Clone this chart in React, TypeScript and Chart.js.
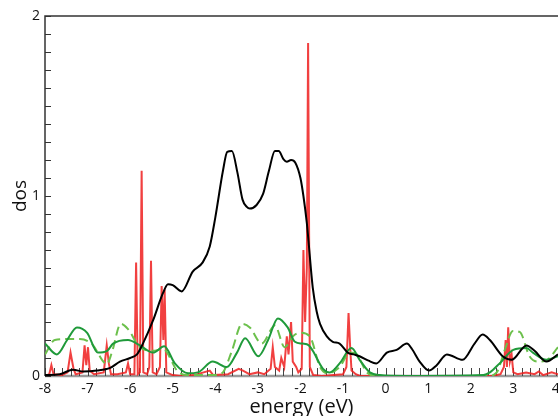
import React, { useEffect, useRef } from "react";
import { Chart, registerables } from "chart.js";

Chart.register(...registerables);

// ---- data ----
const xTickValues = [-8, -7, -6, -5, -4, -3, -2, -1, 0, 1, 2, 3, 4];
const yTickValues = [0, 1, 2];

const totalE = [-8.0, -7.65, -7.34, -7.1, -6.78, -6.47, -6.24, -6.0, -5.84, -5.7, -5.46, -5.23, -5.11, -5.0, -4.79, -4.53, -4.3, -4.13, -4.0, -3.82, -3.72, -3.61, -3.48, -3.36, -3.26, -3.19, -3.03, -2.88, -2.74, -2.6, -2.51, -2.4, -2.32, -2.22, -2.12, -2.0, -1.93, -1.85, -1.71, -1.62, -1.54, -1.38, -1.24, -1.08, -0.89, -0.75, -0.61, -0.4, -0.22, 0.03, 0.26, 0.5, 0.62, 0.8, 1.02, 1.2, 1.44, 1.81, 2.09, 2.28, 2.45, 2.75, 2.96, 3.31, 3.5, 3.78, 4.05];
const totalDos = [0.005, 0.01, 0.035, 0.025, 0.03, 0.045, 0.08, 0.1, 0.12, 0.18, 0.31, 0.46, 0.51, 0.505, 0.47, 0.58, 0.63, 0.72, 0.88, 1.14, 1.245, 1.25, 1.13, 0.98, 0.94, 0.93, 0.95, 1.01, 1.14, 1.25, 1.25, 1.205, 1.19, 1.2, 1.185, 1.1, 1.0, 0.85, 0.49, 0.36, 0.29, 0.22, 0.19, 0.18, 0.13, 0.12, 0.11, 0.085, 0.07, 0.13, 0.145, 0.18, 0.15, 0.08, 0.03, 0.06, 0.12, 0.09, 0.18, 0.23, 0.2, 0.11, 0.09, 0.17, 0.14, 0.08, 0.12];

const sE = [-8.0, -7.9, -7.85, -7.8, -7.6, -7.47, -7.4, -7.33, -7.28, -7.12, -7.07, -7.03, -6.99, -6.95, -6.85, -6.62, -6.55, -6.5, -6.45, -6.3, -6.1, -6.05, -6.0, -5.9, -5.86, -5.82, -5.77, -5.73, -5.69, -5.6, -5.55, -5.51, -5.47, -5.38, -5.3, -5.26, -5.22, -5.19, -5.15, -5.0, -4.8, -4.5, -4.13, -4.05, -3.7, -3.45, -3.35, -3.2, -3.0, -2.85, -2.7, -2.65, -2.6, -2.5, -2.45, -2.38, -2.32, -2.28, -2.22, -2.18, -2.1, -2.05, -1.97, -1.93, -1.89, -1.85, -1.82, -1.78, -1.7, -1.5, -1.0, -0.92, -0.87, -0.83, -0.8, -0.7, -0.6, 2.5, 2.7, 2.78, 2.82, 2.85, 2.88, 2.92, 2.96, 3.0, 3.1, 3.3, 3.5, 3.6, 3.7, 3.9, 4.05];
const sDos = [0.0, 0.01, 0.06, 0.01, 0.005, 0.02, 0.13, 0.04, 0.01, 0.02, 0.17, 0.06, 0.16, 0.03, 0.01, 0.02, 0.17, 0.07, 0.01, 0.01, 0.02, 0.07, 0.01, 0.01, 0.63, 0.01, 0.02, 1.14, 0.02, 0.01, 0.05, 0.64, 0.02, 0.01, 0.05, 0.5, 0.2, 0.48, 0.02, 0.005, 0.0, 0.005, 0.03, 0.005, 0.01, 0.04, 0.03, 0.01, 0.02, 0.01, 0.04, 0.16, 0.05, 0.03, 0.1, 0.05, 0.22, 0.12, 0.3, 0.08, 0.05, 0.02, 0.04, 0.7, 0.3, 0.6, 1.85, 0.05, 0.005, 0.0, 0.01, 0.05, 0.35, 0.15, 0.03, 0.01, 0.0, 0.0, 0.01, 0.05, 0.2, 0.05, 0.27, 0.08, 0.12, 0.02, 0.01, 0.02, 0.01, 0.025, 0.005, 0.02, 0.01];

const pE = [-8.0, -7.72, -7.48, -7.25, -7.01, -6.76, -6.54, -6.4, -6.05, -5.77, -5.46, -5.2, -4.95, -4.64, -4.41, -4.06, -3.73, -3.49, -3.3, -2.99, -2.76, -2.53, -2.3, -2.13, -1.95, -1.8, -1.71, -1.47, -1.31, -1.08, -0.8, -0.61, -0.37, -0.14, 0.5, 2.3, 2.45, 2.68, 3.0, 3.31, 3.46, 3.78, 4.05];
const pDos = [0.18, 0.12, 0.2, 0.27, 0.24, 0.13, 0.14, 0.18, 0.2, 0.17, 0.13, 0.165, 0.07, 0.015, 0.02, 0.08, 0.05, 0.13, 0.21, 0.11, 0.2, 0.32, 0.27, 0.19, 0.18, 0.17, 0.14, 0.04, 0.02, 0.07, 0.155, 0.09, 0.02, 0.005, 0.0, 0.005, 0.02, 0.07, 0.145, 0.155, 0.13, 0.09, 0.11];

const dE = [-8.0, -7.77, -7.48, -7.18, -6.87, -6.66, -6.55, -6.43, -6.22, -6.05, -5.77, -5.46, -5.23, -4.88, -4.64, -4.0, -3.82, -3.61, -3.37, -3.19, -2.91, -2.6, -2.37, -2.18, -2.01, -1.78, -1.54, -1.36, -1.08, -0.84, -0.68, -0.44, -0.2, 2.4, 2.61, 2.8, 2.99, 3.15, 3.38, 3.57, 3.8, 4.05];
const dDos = [0.12, 0.2, 0.205, 0.205, 0.17, 0.09, 0.065, 0.13, 0.29, 0.26, 0.16, 0.14, 0.15, 0.025, 0.005, 0.005, 0.02, 0.14, 0.29, 0.27, 0.18, 0.28, 0.16, 0.22, 0.24, 0.22, 0.05, 0.015, 0.05, 0.13, 0.12, 0.02, 0.0, 0.0, 0.02, 0.145, 0.25, 0.245, 0.11, 0.08, 0.09, 0.16];

const xTitle = "energy (eV)";
const yTitle = "dos";

const pts = (xs: number[], ys: number[]) => xs.map((x, i) => ({ x, y: ys[i] }));

const axesPlugin = {
  id: "customAxes",
  beforeDatasetsDraw(chart: any) {
    const { ctx, chartArea, scales } = chart;
    const xs = scales.x;
    const ys = scales.y;
    ctx.save();
    // bottom axis (grey)
    ctx.strokeStyle = "#9a9a9a";
    ctx.lineWidth = 2.5;
    ctx.beginPath();
    ctx.moveTo(chartArea.left, chartArea.bottom);
    ctx.lineTo(chartArea.right, chartArea.bottom);
    ctx.stroke();
    // x minor ticks every 0.2
    ctx.strokeStyle = "#444";
    ctx.lineWidth = 1;
    for (let i = 0; i <= 60; i++) {
      const v = -8 + i * 0.2;
      const px = Math.round(xs.getPixelForValue(v)) + 0.5;
      ctx.beginPath();
      ctx.moveTo(px, chartArea.bottom);
      ctx.lineTo(px, chartArea.bottom - 8);
      ctx.stroke();
    }
    // left + top axis
    ctx.strokeStyle = "#333";
    ctx.lineWidth = 1.5;
    ctx.beginPath();
    ctx.moveTo(chartArea.left, chartArea.bottom);
    ctx.lineTo(chartArea.left, chartArea.top);
    ctx.lineTo(chartArea.right, chartArea.top);
    ctx.stroke();
    ctx.lineWidth = 1;
    for (let i = 0; i <= 20; i++) {
      const v = i * 0.1;
      const py = Math.round(ys.getPixelForValue(v)) + 0.5;
      ctx.beginPath();
      ctx.moveTo(chartArea.left, py);
      ctx.lineTo(chartArea.left + 6, py);
      ctx.stroke();
    }
    // titles
    ctx.fillStyle = "#111";
    ctx.font = '20px "Open Sans", sans-serif';
    ctx.textAlign = "center";
    ctx.textBaseline = "alphabetic";
    ctx.fillText(xTitle, (chartArea.left + chartArea.right) / 2, 413);
    ctx.save();
    ctx.translate(26, (chartArea.top + chartArea.bottom) / 2);
    ctx.rotate(-Math.PI / 2);
    ctx.font = '19px "Open Sans", sans-serif';
    ctx.fillText(yTitle, 0, 0);
    ctx.restore();
    ctx.restore();
  },
};

export default function App() {
  const ref = useRef<HTMLCanvasElement | null>(null);
  useEffect(() => {
    document.body.style.margin = "0";
    const canvas = ref.current;
    if (!canvas) return;
    const chart = new Chart(canvas, {
      type: "line",
      data: {
        datasets: [
          {
            label: "s",
            data: pts(sE, sDos),
            borderColor: "rgba(238,30,30,0.85)",
            borderWidth: 2,
            pointRadius: 0,
            tension: 0,
            order: 4,
          },
          {
            label: "p dashed",
            data: pts(dE, dDos),
            borderColor: "#6cc04c",
            borderWidth: 2,
            borderDash: [9, 5],
            pointRadius: 0,
            cubicInterpolationMode: "monotone",
            order: 3,
          },
          {
            label: "p",
            data: pts(pE, pDos),
            borderColor: "#1f9a3a",
            borderWidth: 2,
            pointRadius: 0,
            cubicInterpolationMode: "monotone",
            order: 2,
          },
          {
            label: "total",
            data: pts(totalE, totalDos),
            borderColor: "#000",
            borderWidth: 2,
            pointRadius: 0,
            cubicInterpolationMode: "monotone",
            order: 1,
          },
        ],
      },
      options: {
        responsive: false,
        animation: false,
        devicePixelRatio: 1,
        layout: { padding: { top: 16, left: 0, right: 0, bottom: 0 } },
        plugins: { legend: { display: false }, tooltip: { enabled: false } },
        scales: {
          x: {
            type: "linear",
            min: -8,
            max: 4.05,
            grid: { display: false, drawTicks: false },
            border: { display: false },
            afterBuildTicks: (s: any) => {
              s.ticks = xTickValues.map((v) => ({ value: v }));
            },
            afterFit: (s: any) => {
              s.height = 40;
              s.paddingLeft = 0;
              s.paddingRight = 0;
            },
            ticks: {
              padding: 5,
              color: "#111",
              font: { family: '"Open Sans", sans-serif', size: 14 },
              maxRotation: 0,
              autoSkip: false,
              callback: (v: any) => String(v),
            },
          },
          y: {
            type: "linear",
            min: 0,
            max: 2,
            grid: { display: false, drawTicks: false },
            border: { display: false },
            afterBuildTicks: (s: any) => {
              s.ticks = yTickValues.map((v) => ({ value: v }));
            },
            afterFit: (s: any) => {
              s.width = 45;
            },
            ticks: {
              padding: 5,
              color: "#111",
              font: { family: '"Open Sans", sans-serif', size: 14 },
              callback: (v: any) => String(v),
            },
          },
        },
      },
      plugins: [axesPlugin],
    });
    return () => chart.destroy();
  }, []);
  return (
    <div style={{ width: 558, height: 416 }}>
      <canvas ref={ref} width={558} height={416} style={{ display: "block" }} />
    </div>
  );
}
